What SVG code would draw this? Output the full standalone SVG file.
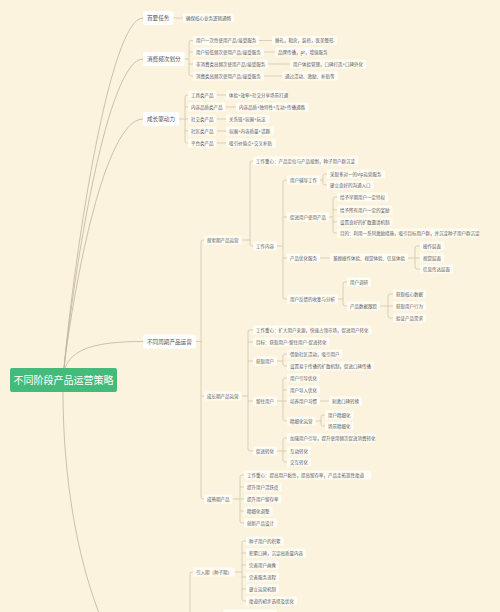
<svg xmlns="http://www.w3.org/2000/svg" width="500" height="612" viewBox="0 0 500 612">
<style>
.c{fill:none;stroke:#c4b9a2;stroke-width:0.6}
.rc{fill:none;stroke:#bfb49d;stroke-width:0.8}
.b rect{fill:#fffcf4}
.b text{font-family:"Noto Sans CJK SC","Noto Sans CJK JP",sans-serif;font-size:4.5px;fill:#5a5a5a}
.l1 rect{fill:#ffffff}
.l1 text{font-family:"Noto Sans CJK SC","Noto Sans CJK JP",sans-serif;font-size:5.6px;fill:#555555}
.root rect{fill:#45bb7b}
.root text{font-family:"Noto Sans CJK SC","Noto Sans CJK JP",sans-serif;font-size:10px;fill:#ffffff;text-anchor:middle}
</style>
<rect width="500" height="612" fill="#fbf3dd"/>
<g id="connectors">
<path class="rc" d="M64,368 C75,249 110,18 143,18"/>
<path class="rc" d="M64,368 C75,263 108,59 143,59"/>
<path class="rc" d="M64,368 C74,284 105,119 143,119"/>
<path class="rc" d="M65,368 C72,349 95,341.5 143,341.5"/>
<path class="rc" d="M63,392 C63,470 75,560 106,630"/>
<path class="c" d="M173.4,18H183"/>
<path class="c" d="M184.6,59H189 M193,40.5H191Q189,40.5 189,42.5V74Q189,76 191,76H193 M189,52H193 M189,64H193"/>
<path class="c" d="M259,40.5H272 M264,52H275 M268,64H290 M264,76H282"/>
<path class="c" d="M179,119H188 M188,95H187Q185,95 185,97V141Q185,143 187,143H188 M185,107H188 M185,131H188"/>
<path class="c" d="M216.5,95H226 M225.5,107H236 M216.5,119H226 M216.5,131H226 M216.5,143H226"/>
<path class="c" d="M195.8,341.5H201 M204,240H203Q201,240 201,242V497Q201,499 203,499H204 M201,396H204"/>
<path class="c" d="M241.5,240H250 M253,161H252Q250,161 250,163V244Q250,246 252,246H253"/>
<path class="c" d="M277,246H283 M287,180H285Q283,180 283,182V297Q283,299 285,299H287 M283,217H287 M283,258H287"/>
<path class="c" d="M320,180H323 M327,174H325Q323,174 323,176V183Q323,185 325,185H327"/>
<path class="c" d="M329,217H333 M337,197H335Q333,197 333,199V231Q333,233 335,233H337 M333,210H337 M333,222H337"/>
<path class="c" d="M320,258H330 M408,258H420 M420,246H417Q415,246 415,248V267Q415,269 417,269H420"/>
<path class="c" d="M338,299H343 M347,282H345Q343,282 343,284V304Q343,306 345,306H347"/>
<path class="c" d="M380,306H393 M393,294H390Q388,294 388,296V316Q388,318 390,318H393"/>
<path class="c" d="M241.5,396H248 M253,330H250Q248,330 248,332V449Q248,451 250,451H253 M248,342H253 M248,361H253 M248,401H253"/>
<path class="c" d="M277,361H283 M287,354H285Q283,354 283,356V364Q283,366 285,366H287"/>
<path class="c" d="M277,401H287 M287,378H285Q283,378 283,380V419Q283,421 285,421H287 M283,390H287"/>
<path class="c" d="M320,401H329"/>
<path class="c" d="M315.5,421H321 M325,415H323Q321,415 321,417V424Q321,426 323,426H325"/>
<path class="c" d="M277,451H287 M287,438H285Q283,438 283,440V460Q283,462 285,462H287"/>
<path class="c" d="M232.5,499H244 M244,475H242Q240,475 240,477V521Q240,523 242,523H244 M240,487H244 M240,511H244"/>
<path class="c" d="M193,572H192Q190,572 190,574V612"/>
<path class="c" d="M235,572H242 M246,541H244Q242,541 242,543V599Q242,601 244,601H246 M242,553H246 M242,565H246 M242,577H246 M242,589H246"/>
</g>
<g id="root" class="root"><rect x="10" y="368" width="107" height="24" rx="2"/><text x="63.5" y="383.6">不同阶段产品运营策略</text></g>
<g id="l1-1" class="l1"><rect x="143" y="11" width="30.4" height="14" rx="2"/><text x="147" y="20">首要任务</text></g>
<g id="l1-2" class="l1"><rect x="143" y="52" width="41.6" height="14" rx="2"/><text x="147" y="61">消费频次划分</text></g>
<g id="l1-3" class="l1"><rect x="143" y="112" width="36" height="14" rx="2"/><text x="147" y="121">成长驱动力</text></g>
<g id="l1-4" class="l1"><rect x="143" y="334.5" width="52.8" height="14" rx="2"/><text x="147" y="343.5">不同周期产品运营</text></g>
<g id="a1" class="b"><rect x="183" y="13.5" width="51" height="9" rx="1.5"/><text x="186" y="19.6">确保核心业务逻辑通畅</text></g>
<g id="b1" class="b"><rect x="193" y="36" width="66" height="9" rx="1.5"/><text x="196" y="42.1">用户一次性使用产品/接受服务</text></g>
<g id="b2" class="b"><rect x="193" y="47.5" width="71" height="9" rx="1.5"/><text x="196" y="53.6">用户较低频次使用产品/接受服务</text></g>
<g id="b3" class="b"><rect x="193" y="59.5" width="75" height="9" rx="1.5"/><text x="196" y="65.6">非消费类高频次使用产品/接受服务</text></g>
<g id="b4" class="b"><rect x="193" y="71.5" width="71" height="9" rx="1.5"/><text x="196" y="77.6">消费类高频次使用产品/接受服务</text></g>
<g id="b1a" class="b"><rect x="272" y="36" width="65" height="9" rx="1.5"/><text x="275" y="42.1">婚礼，租房，装修，医美整形</text></g>
<g id="b2a" class="b"><rect x="275" y="47.5" width="51" height="9" rx="1.5"/><text x="278" y="53.6">品牌传播，pr，增值服务</text></g>
<g id="b3a" class="b"><rect x="290" y="59.5" width="76" height="9" rx="1.5"/><text x="293" y="65.6">用户体验管理，口碑打造+口碑外化</text></g>
<g id="b4a" class="b"><rect x="282" y="71.5" width="56" height="9" rx="1.5"/><text x="285" y="77.6">通过活动、激励、补贴等</text></g>
<g id="c1" class="b"><rect x="188" y="90.5" width="28.5" height="9" rx="1.5"/><text x="191" y="96.6">工具类产品</text></g>
<g id="c2" class="b"><rect x="188" y="102.5" width="37.5" height="9" rx="1.5"/><text x="191" y="108.6">内容品质类产品</text></g>
<g id="c3" class="b"><rect x="188" y="114.5" width="28.5" height="9" rx="1.5"/><text x="191" y="120.6">社交类产品</text></g>
<g id="c4" class="b"><rect x="188" y="126.5" width="28.5" height="9" rx="1.5"/><text x="191" y="132.6">社区类产品</text></g>
<g id="c5" class="b"><rect x="188" y="138.5" width="28.5" height="9" rx="1.5"/><text x="191" y="144.6">平台类产品</text></g>
<g id="c1a" class="b"><rect x="226" y="90.5" width="61" height="9" rx="1.5"/><text x="229" y="96.6">体验+效率+社交分享场景打通</text></g>
<g id="c2a" class="b"><rect x="236" y="102.5" width="73" height="9" rx="1.5"/><text x="239" y="108.6">内容品质+独特性+互动+传播通路</text></g>
<g id="c3a" class="b"><rect x="226" y="114.5" width="43" height="9" rx="1.5"/><text x="229" y="120.6">关系链+氛围+玩法</text></g>
<g id="c4a" class="b"><rect x="226" y="126.5" width="48" height="9" rx="1.5"/><text x="229" y="132.6">氛围+内容质量+话题</text></g>
<g id="c5a" class="b"><rect x="226" y="138.5" width="50" height="9" rx="1.5"/><text x="229" y="144.6">吸引价值点+交叉补贴</text></g>
<g id="d1" class="b"><rect x="204" y="235.5" width="37.5" height="9" rx="1.5"/><text x="207" y="241.6">探索期产品运营</text></g>
<g id="d1-1" class="b"><rect x="253" y="156.5" width="105" height="9" rx="1.5"/><text x="256" y="162.6">工作重心：产品定位与产品规划，种子用户群沉淀</text></g>
<g id="d1-2" class="b"><rect x="253" y="241.5" width="24" height="9" rx="1.5"/><text x="256" y="247.6">工作内容</text></g>
<g id="e1" class="b"><rect x="287" y="175.5" width="33" height="9" rx="1.5"/><text x="290" y="181.6">用户辅导工作</text></g>
<g id="e1a" class="b"><rect x="327" y="169.5" width="58" height="9" rx="1.5"/><text x="330" y="175.6">采取多对一的vip运营服务</text></g>
<g id="e1b" class="b"><rect x="327" y="180.5" width="46.5" height="9" rx="1.5"/><text x="330" y="186.6">建立良好的沟通入口</text></g>
<g id="e2" class="b"><rect x="287" y="212.5" width="42" height="9" rx="1.5"/><text x="290" y="218.6">促进用户使用产品</text></g>
<g id="e2a" class="b"><rect x="337" y="192.5" width="51" height="9" rx="1.5"/><text x="340" y="198.6">给予早期用户一定特权</text></g>
<g id="e2b" class="b"><rect x="337" y="205.5" width="55.5" height="9" rx="1.5"/><text x="340" y="211.6">给予所有用户一定的奖励</text></g>
<g id="e2c" class="b"><rect x="337" y="217.5" width="55.5" height="9" rx="1.5"/><text x="340" y="223.6">设置良好的扩散邀请机制</text></g>
<g id="e2d" class="b"><rect x="337" y="228.5" width="141" height="9" rx="1.5"/><text x="340" y="234.6">目的：利用一系列激励措施，吸引目标用户群，并沉淀种子用户群沉淀</text></g>
<g id="e3" class="b"><rect x="287" y="253.5" width="33" height="9" rx="1.5"/><text x="290" y="259.6">产品优化服务</text></g>
<g id="e3a" class="b"><rect x="330" y="253.5" width="78" height="9" rx="1.5"/><text x="333" y="259.6">兼顾操作体验、视觉体验、信息体验</text></g>
<g id="e3a1" class="b"><rect x="420" y="241.5" width="24" height="9" rx="1.5"/><text x="423" y="247.6">操作层面</text></g>
<g id="e3a2" class="b"><rect x="420" y="253.5" width="24" height="9" rx="1.5"/><text x="423" y="259.6">视觉层面</text></g>
<g id="e3a3" class="b"><rect x="420" y="264.5" width="33" height="9" rx="1.5"/><text x="423" y="270.6">信息传达层面</text></g>
<g id="e4" class="b"><rect x="287" y="294.5" width="51" height="9" rx="1.5"/><text x="290" y="300.6">用户反馈的收集与分析</text></g>
<g id="e4a" class="b"><rect x="347" y="277.5" width="24" height="9" rx="1.5"/><text x="350" y="283.6">用户调研</text></g>
<g id="e4b" class="b"><rect x="347" y="301.5" width="33" height="9" rx="1.5"/><text x="350" y="307.6">产品数据跟踪</text></g>
<g id="e4b1" class="b"><rect x="393" y="289.5" width="33" height="9" rx="1.5"/><text x="396" y="295.6">获取核心数据</text></g>
<g id="e4b2" class="b"><rect x="393" y="301.5" width="33" height="9" rx="1.5"/><text x="396" y="307.6">获取用户行为</text></g>
<g id="e4b3" class="b"><rect x="393" y="313.5" width="33" height="9" rx="1.5"/><text x="396" y="319.6">验证产品需求</text></g>
<g id="d2" class="b"><rect x="204" y="391.5" width="37.5" height="9" rx="1.5"/><text x="207" y="397.6">成长期产品运营</text></g>
<g id="f1" class="b"><rect x="253" y="325.5" width="118.5" height="9" rx="1.5"/><text x="256" y="331.6">工作重心：扩大用户来源，快速占领市场，促进用户转化</text></g>
<g id="f2" class="b"><rect x="253" y="337.5" width="76.5" height="9" rx="1.5"/><text x="256" y="343.6">目标：获取用户-留住用户-促进转化</text></g>
<g id="f3" class="b"><rect x="253" y="356.5" width="24" height="9" rx="1.5"/><text x="256" y="362.6">获取用户</text></g>
<g id="f3a" class="b"><rect x="287" y="349.5" width="55.5" height="9" rx="1.5"/><text x="290" y="355.6">借助社区活动，吸引用户</text></g>
<g id="f3b" class="b"><rect x="287" y="361.5" width="87" height="9" rx="1.5"/><text x="290" y="367.6">设置易于传播的扩散机制，促进口碑传播</text></g>
<g id="f4" class="b"><rect x="253" y="396.5" width="24" height="9" rx="1.5"/><text x="256" y="402.6">留住用户</text></g>
<g id="f4a" class="b"><rect x="287" y="373.5" width="33" height="9" rx="1.5"/><text x="290" y="379.6">用户引导优化</text></g>
<g id="f4b" class="b"><rect x="287" y="385.5" width="33" height="9" rx="1.5"/><text x="290" y="391.6">用户导入优化</text></g>
<g id="f4c" class="b"><rect x="287" y="396.5" width="33" height="9" rx="1.5"/><text x="290" y="402.6">培养用户习惯</text></g>
<g id="f4c1" class="b"><rect x="329" y="396.5" width="33" height="9" rx="1.5"/><text x="332" y="402.6">刺激口碑转换</text></g>
<g id="f4d" class="b"><rect x="287" y="416.5" width="28.5" height="9" rx="1.5"/><text x="290" y="422.6">精细化运营</text></g>
<g id="f4d1" class="b"><rect x="325" y="410.5" width="28.5" height="9" rx="1.5"/><text x="328" y="416.6">用户精细化</text></g>
<g id="f4d2" class="b"><rect x="325" y="421.5" width="28.5" height="9" rx="1.5"/><text x="328" y="427.6">场景精细化</text></g>
<g id="f5" class="b"><rect x="253" y="446.5" width="24" height="9" rx="1.5"/><text x="256" y="452.6">促进转化</text></g>
<g id="f5a" class="b"><rect x="287" y="433.5" width="89" height="9" rx="1.5"/><text x="290" y="439.6">加强用户引导，提升使用频次促进消费转化</text></g>
<g id="f5b" class="b"><rect x="287" y="446.5" width="24" height="9" rx="1.5"/><text x="290" y="452.6">互动转化</text></g>
<g id="f5c" class="b"><rect x="287" y="457.5" width="24" height="9" rx="1.5"/><text x="290" y="463.6">交互转化</text></g>
<g id="d3" class="b"><rect x="204" y="494.5" width="28.5" height="9" rx="1.5"/><text x="207" y="500.6">成熟期产品</text></g>
<g id="g1" class="b"><rect x="244" y="470.5" width="127" height="9" rx="1.5"/><text x="247" y="476.6">工作重心：提高用户黏性，提高留存率，产品走拓宽性渠道</text></g>
<g id="g2" class="b"><rect x="244" y="482.5" width="37.5" height="9" rx="1.5"/><text x="247" y="488.6">提升用户活跃度</text></g>
<g id="g3" class="b"><rect x="244" y="494.5" width="37.5" height="9" rx="1.5"/><text x="247" y="500.6">提升用户留存率</text></g>
<g id="g4" class="b"><rect x="244" y="506.5" width="28.5" height="9" rx="1.5"/><text x="247" y="512.6">精细化调整</text></g>
<g id="g5" class="b"><rect x="244" y="518.5" width="33" height="9" rx="1.5"/><text x="247" y="524.6">创新产品设计</text></g>
<g id="h0" class="b"><rect x="193" y="567.5" width="42" height="9" rx="1.5"/><text x="196" y="573.6">引入期（种子期）</text></g>
<g id="h1" class="b"><rect x="246" y="536.5" width="37.5" height="9" rx="1.5"/><text x="249" y="542.6">种子用户的积累</text></g>
<g id="h2" class="b"><rect x="246" y="548.5" width="60" height="9" rx="1.5"/><text x="249" y="554.6">积累口碑，沉淀高质量内容</text></g>
<g id="h3" class="b"><rect x="246" y="560.5" width="33" height="9" rx="1.5"/><text x="249" y="566.6">完善用户画像</text></g>
<g id="h4" class="b"><rect x="246" y="572.5" width="33" height="9" rx="1.5"/><text x="249" y="578.6">完善服务流程</text></g>
<g id="h5" class="b"><rect x="246" y="584.5" width="33" height="9" rx="1.5"/><text x="249" y="590.6">建立运营机制</text></g>
<g id="h6" class="b"><rect x="246" y="596.5" width="51" height="9" rx="1.5"/><text x="249" y="602.6">渠道的初步选择及优化</text></g>
<g id="i0" class="b"><rect x="223" y="609.5" width="54" height="9" rx="1.5"/></g>
</svg>
